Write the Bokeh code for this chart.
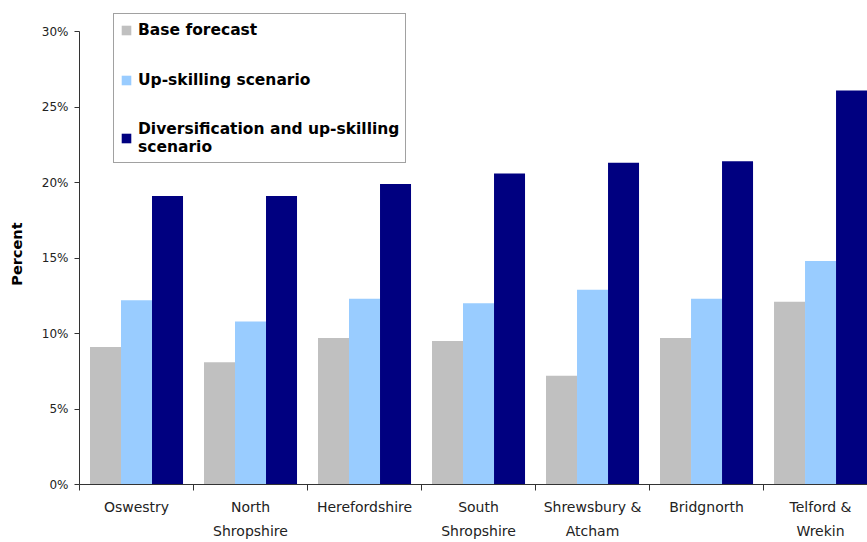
from bokeh.plotting import figure
from bokeh.models import (Range1d, FixedTicker, NumeralTickFormatter, Legend, LegendItem,
                          ColumnDataSource)
from bokeh.embed import file_html
from bokeh.resources import INLINE

categories = ["Oswestry", "North\nShropshire", "Herefordshire", "South\nShropshire",
              "Shrewsbury &\nAtcham", "Bridgnorth", "Telford &\nWrekin"]
base_forecast = [0.091, 0.081, 0.097, 0.095, 0.072, 0.097, 0.121]
upskilling = [0.122, 0.108, 0.123, 0.120, 0.129, 0.123, 0.148]
diversification = [0.191, 0.191, 0.199, 0.206, 0.213, 0.214, 0.261]
series_names = ["Base forecast", "Up-skilling scenario", "Diversification and up-skilling\nscenario"]
colors = ["#C0C0C0", "#99CCFF", "#000080"]
y_ticks = [0, 0.05, 0.10, 0.15, 0.20, 0.25, 0.30]

FONT = "DejaVu Sans"

# frame spans y=13..484; 30% sits at y=31
y_end = 0.30 * 471 / 453

p = figure(width=867, height=542, output_backend="svg", toolbar_location=None,
           x_range=Range1d(0, 6.912), y_range=Range1d(0, y_end),
           min_border_left=79, min_border_right=0, min_border_top=13, min_border_bottom=58)
p.outline_line_color = None
p.xgrid.visible = False
p.ygrid.visible = False
p.background_fill_color = "white"
p.border_fill_color = "white"

centers = [i + 0.5 for i in range(len(categories))]
bw = 0.272
offsets = [-bw, 0.0, bw]
renderers = []
for vals, off, col in zip([base_forecast, upskilling, diversification], offsets, colors):
    src = ColumnDataSource(dict(x=[c + off for c in centers], top=vals))
    r = p.vbar(x="x", top="top", bottom=0, width=bw, source=src,
               fill_color=col, line_color=None)
    renderers.append(r)

# y axis
p.yaxis.bounds = (0, 0.30)
p.yaxis.ticker = FixedTicker(ticks=y_ticks)
p.yaxis.formatter = NumeralTickFormatter(format="0%")
p.yaxis.minor_tick_line_color = None
p.yaxis.major_tick_in = 0
p.yaxis.major_tick_out = 5
p.yaxis.axis_line_color = "#333333"
p.yaxis.major_tick_line_color = "#333333"
p.yaxis.major_label_text_font = FONT
p.yaxis.major_label_text_font_size = "12px"
p.yaxis.major_label_text_color = "#222222"
p.yaxis.major_label_standoff = 6
p.yaxis.axis_label = "Percent" + "\u00a0" * 2
p.yaxis.axis_label_text_font = FONT
p.yaxis.axis_label_text_font_style = "bold"
p.yaxis.axis_label_text_font_size = "14.5px"
p.yaxis.axis_label_text_color = "black"
p.yaxis.axis_label_standoff = 14

# x axis
p.xaxis.ticker = FixedTicker(ticks=centers, minor_ticks=list(range(len(categories) + 1)))
p.xaxis.major_label_overrides = {c: lab for c, lab in zip(centers, categories)}
p.xaxis.major_tick_line_color = None
p.xaxis.major_tick_out = 0
p.xaxis.major_tick_in = 0
p.xaxis.minor_tick_in = 0
p.xaxis.minor_tick_out = 6
p.xaxis.minor_tick_line_color = "#333333"
p.xaxis.axis_line_color = "#333333"
p.xaxis.major_label_text_font = FONT
p.xaxis.major_label_text_font_size = "14px"
p.xaxis.major_label_text_line_height = 1.55
p.xaxis.major_label_text_color = "#222222"
p.xaxis.major_label_standoff = 8

legend = Legend(items=[LegendItem(label=n, renderers=[r]) for n, r in zip(series_names, renderers)],
                location=(34, 321))
legend.label_text_font = FONT
legend.label_text_font_style = "bold"
legend.label_text_font_size = "15.5px"
legend.label_text_line_height = 1.4
legend.label_text_color = "black"
legend.glyph_width = 12
legend.glyph_height = 12
legend.label_standoff = 6
legend.padding = 6
legend.margin = 0
legend.spacing = 30
legend.label_height = 20
legend.border_line_color = "#444444"
legend.border_line_width = 1
legend.background_fill_color = "white"
legend.background_fill_alpha = 1.0
p.add_layout(legend, "center")

open("out.html", "w").write(file_html(p, INLINE))
